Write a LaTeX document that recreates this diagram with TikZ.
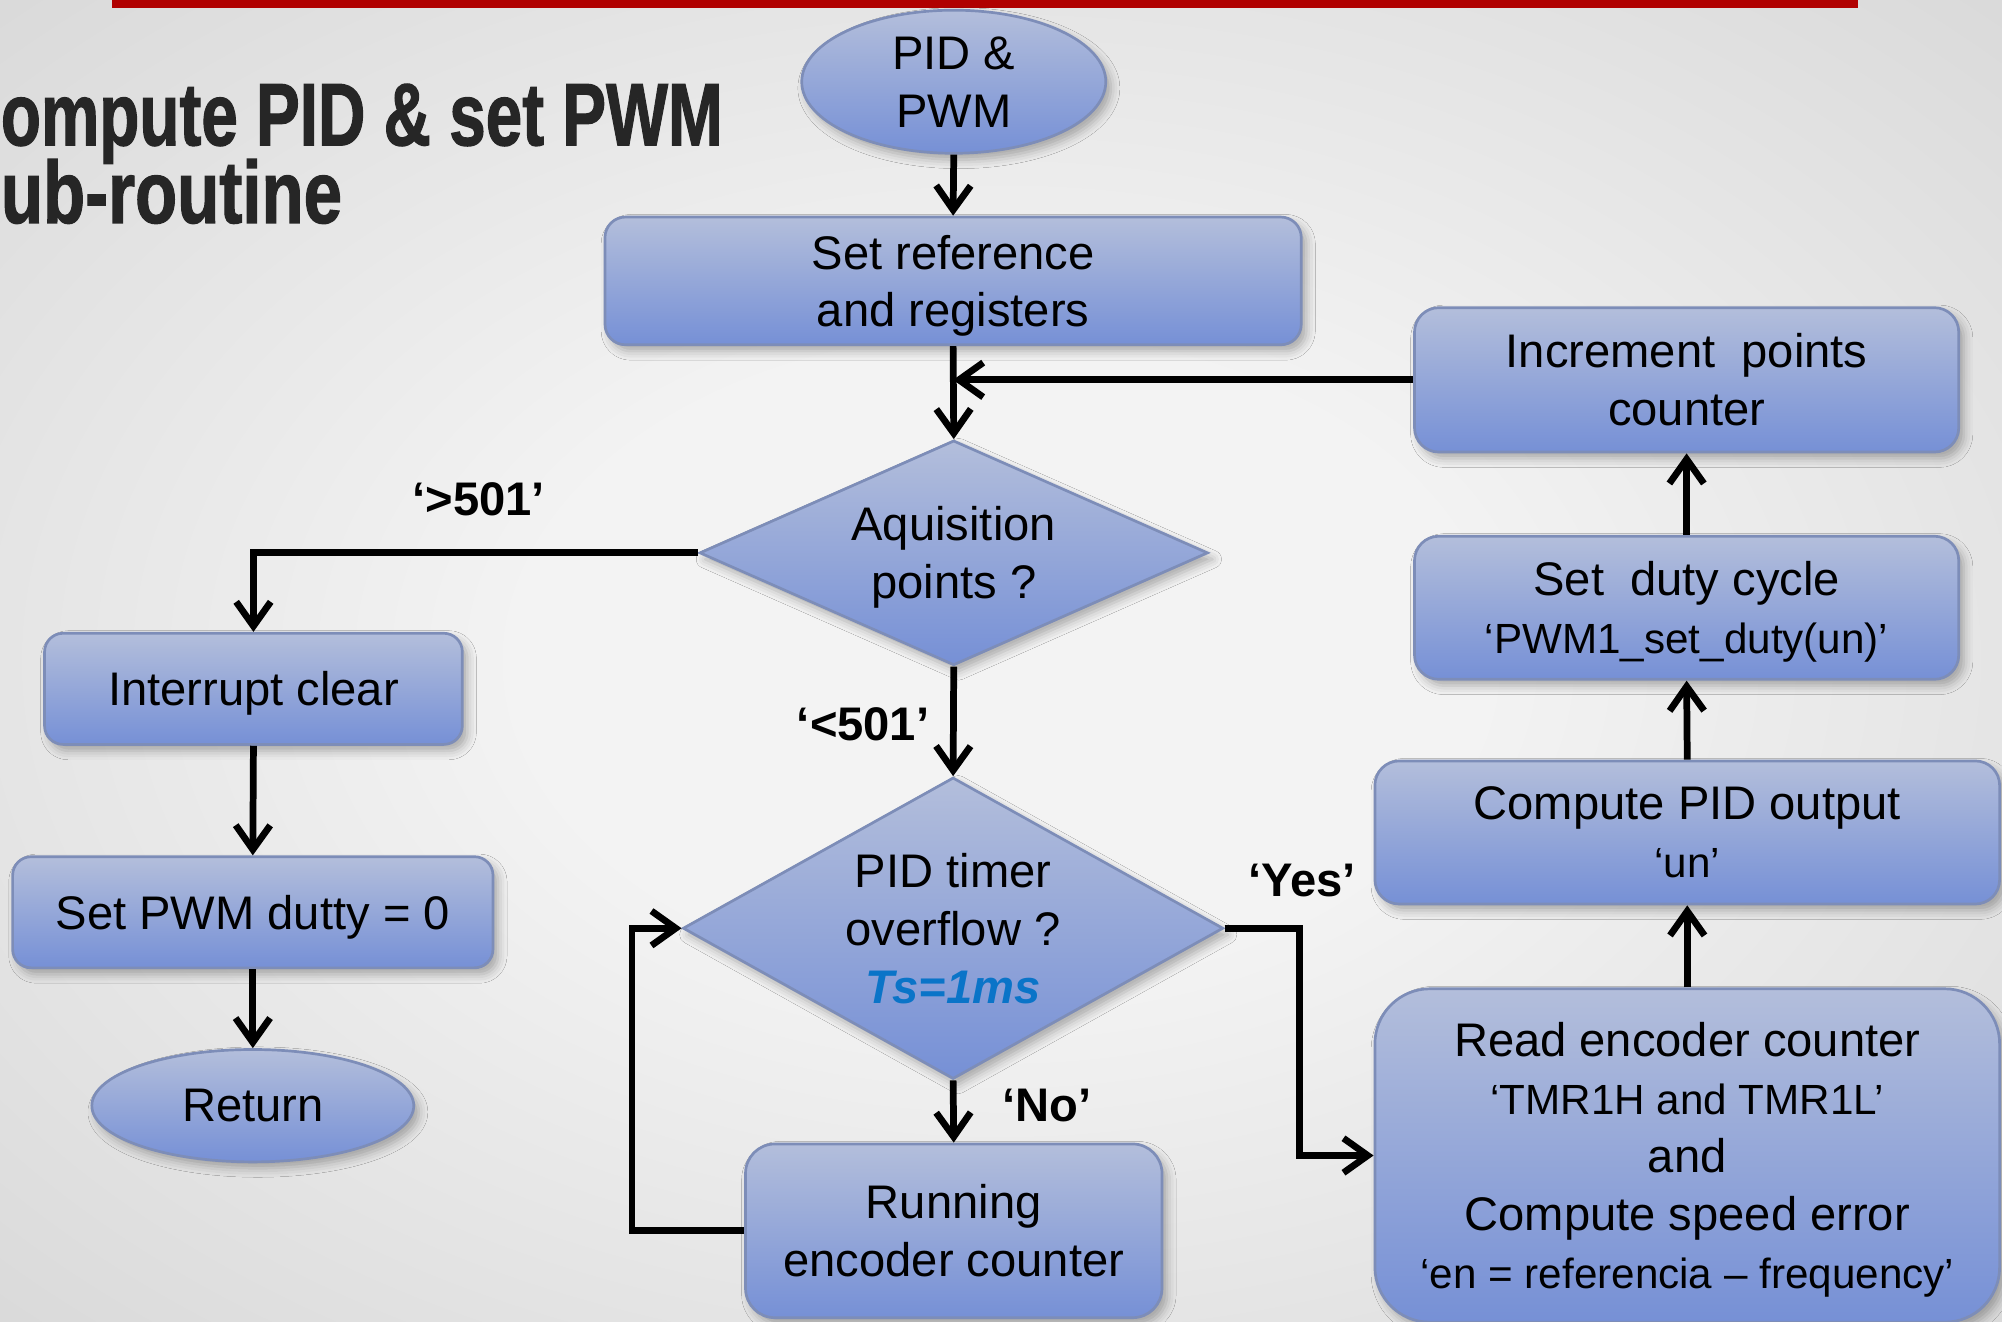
\documentclass[tikz,border=0pt]{standalone}
\usepackage{graphicx}
\usepackage{fontspec}
\setmainfont{Liberation Sans}
\newfontface\titleface{Liberation Sans Bold}[FakeBold=1.5]
\usetikzlibrary{shapes.geometric,arrows.meta,shadows.blur}

\definecolor{boxtop}{HTML}{B3BEDB}
\definecolor{boxbot}{HTML}{7690D6}
\definecolor{boxedge}{HTML}{7D8DB8}
\definecolor{ruleRed}{HTML}{B00000}
\definecolor{titlegray}{HTML}{262626}
\definecolor{tsblue}{HTML}{0A74C8}
\definecolor{bgin}{HTML}{F3F3F3}
\definecolor{bgout}{HTML}{D9D9D9}

% soft vignette for the page background
\pgfdeclareradialshading{vignette}{\pgfpoint{0cm}{0cm}}{%
  color(0bp)=(bgin); color(12bp)=(bgin); color(36bp)=(bgout); color(50bp)=(bgout)}

\newcommand\smalltxt{\fontsize{9.4}{12.8}\selectfont}
% fixed baseline distance for the two title lines
\newcommand\titlelines{\fontsize{10}{17.3}\selectfont\lineskiplimit-1cm\relax}

\begin{document}
\begin{tikzpicture}[x=0.01cm,y=-0.01cm,
  shapebase/.style={draw=boxedge, line width=0.6pt, top color=boxtop, bottom color=boxbot,
    inner sep=0pt, align=center, text depth=0pt, font=\fontsize{10.5}{12.9}\selectfont,
    blur shadow={shadow xshift=0.04cm, shadow yshift=-0.05cm,
      shadow blur radius=0.07cm, shadow opacity=30}},
  proc/.style={shapebase, rectangle},
  term/.style={shapebase, ellipse},
  decision/.style={shapebase, diamond},
  arr/.style={line width=1.5pt, -{Straight Barb[length=0.19cm,width=0.27cm]}},
  lbl/.style={font=\fontsize{10.5}{12.8}\selectfont\bfseries}]

\useasboundingbox (0,0) rectangle (1568,1035);
\shade[shading=vignette] (0,0) rectangle (1568,1035);

% header rule and two-line title
\fill[ruleRed] (88,0) rectangle (1455,6);
\node[anchor=north west, inner sep=0pt, text=titlegray, align=left, font=\titlelines] (title) at (0,65)
  {\resizebox{5.65cm}{0.48cm}{\titleface ompute PID \& set PWM}\\
   \resizebox{2.67cm}{0.50cm}{\titleface ub-routine}};

% main column
\node[term, minimum width=2.38cm, minimum height=1.12cm] (start) at (747,64) {PID \&\\PWM};
\node[proc, minimum width=5.45cm, minimum height=1.0cm, rounded corners=0.16cm] (setref) at (746.5,220)
  {Set reference\\and registers};
\node[decision, minimum width=3.98cm, minimum height=1.76cm, aspect=2.26] (acq) at (747,433)
  {Aquisition\\points ?};
\node[decision, minimum width=4.23cm, minimum height=2.36cm, aspect=1.79] (pid) at (746.5,727)
  {PID timer\\overflow ?\\{\color{tsblue}\bfseries\itshape Ts=1ms}};
\node[proc, minimum width=3.26cm, minimum height=1.36cm, rounded corners=0.23cm] (run) at (747,964)
  {Running\\encoder counter};

% left column
\node[proc, minimum width=3.27cm, minimum height=0.87cm, rounded corners=0.145cm] (intr) at (198.5,539.5)
  {Interrupt clear};
\node[proc, minimum width=3.76cm, minimum height=0.87cm, rounded corners=0.145cm] (setpwm) at (198,714.5)
  {Set PWM dutty = 0};
\node[term, minimum width=2.52cm, minimum height=0.88cm] (ret) at (198,866) {Return};

% right column
\node[proc, minimum width=4.26cm, minimum height=1.13cm, rounded corners=0.19cm] (inc) at (1321,297.5)
  {Increment~~points\\counter};
\node[proc, minimum width=4.26cm, minimum height=1.12cm, rounded corners=0.19cm] (duty) at (1321,476)
  {Set~~duty cycle\\{\smalltxt ‘PWM1\_set\_duty(un)’}};
\node[proc, minimum width=4.89cm, minimum height=1.12cm, rounded corners=0.19cm] (cpid) at (1321.5,652)
  {Compute PID output\\{\smalltxt ‘un’}};
\node[proc, minimum width=4.89cm, minimum height=2.61cm, rounded corners=0.43cm] (read) at (1321.5,905)
  {Read encoder counter\\{\smalltxt ‘TMR1H and TMR1L’}\\and\\Compute speed error\\{\smalltxt ‘en = referencia – frequency’}};

% branch labels
\node[lbl] (gt) at (375,391) {‘>501’};
\node[lbl] (lt) at (676,567) {‘<501’};
\node[lbl] (yes) at (1020,690) {‘Yes’};
\node[lbl] (no) at (820,866) {‘No’};

% bend points
\coordinate (yesbend) at (1018,727);
\coordinate (loopbend) at (495,727);

% connectors
\draw[arr] (start.south) -- (setref.north);
\draw[arr] (setref.south) -- (acq.north);
\draw[arr] (inc.west) -- (inc.west -| setref.south);
\draw[arr] (acq.west) -| (intr.north);
\draw[arr] (acq.south) -- (pid.north);
\draw[arr] (pid.south) -- (run.north);
\draw[arr] (pid.east) -- (yesbend) |- (read.west);
\draw[arr] (run.west) -| (loopbend) -- (pid.west);
\draw[arr] (read.north) -- (cpid.south);
\draw[arr] (cpid.north) -- (duty.south);
\draw[arr] (duty.north) -- (inc.south);
\draw[arr] (intr.south) -- (setpwm.north);
\draw[arr] (setpwm.south) -- (ret.north);
\end{tikzpicture}
\end{document}
